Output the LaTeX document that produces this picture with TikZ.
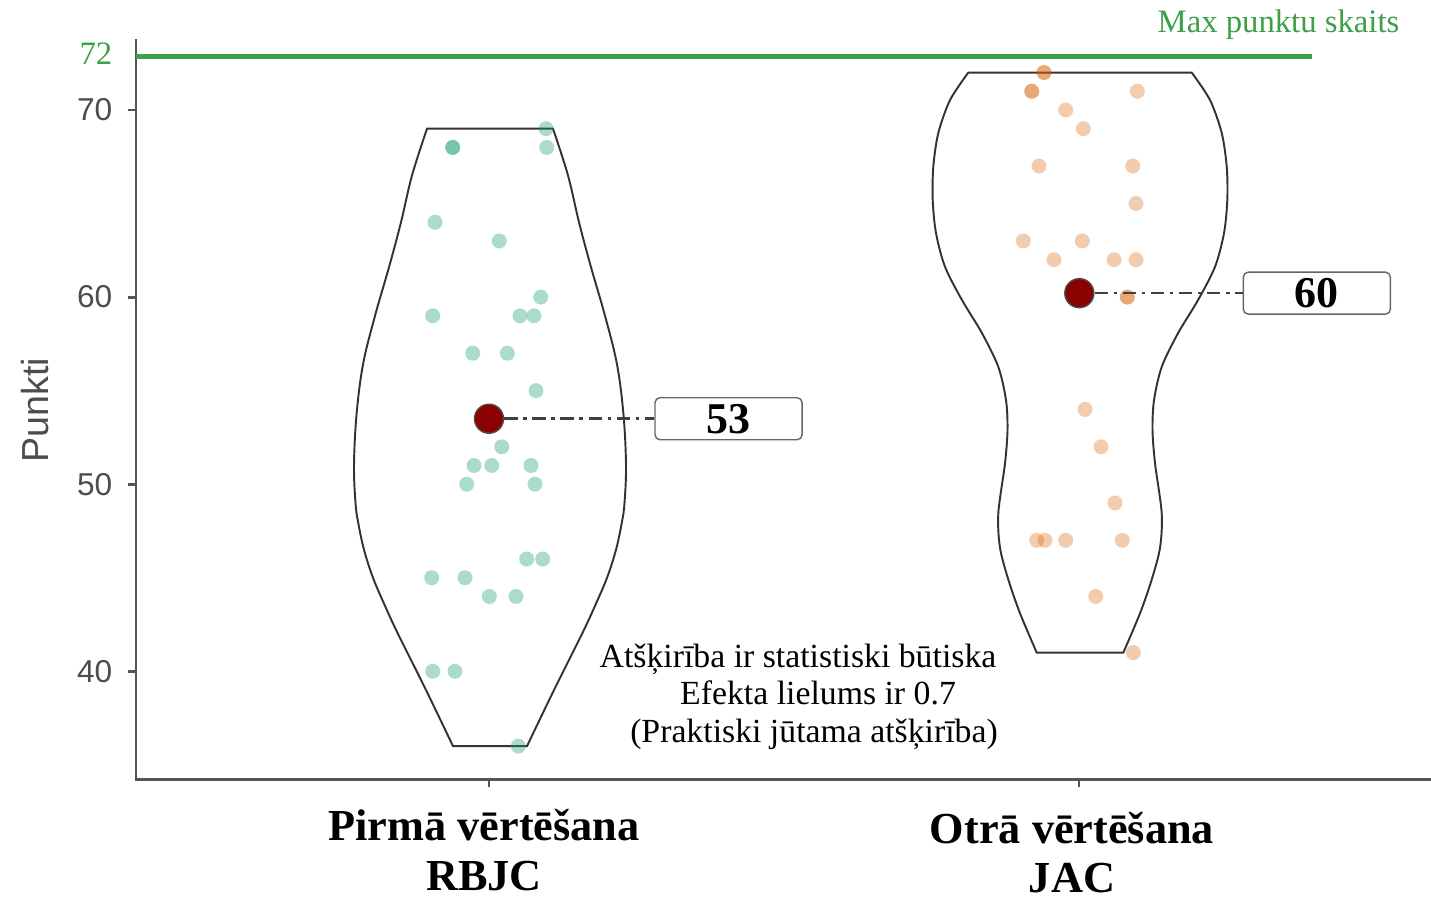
\documentclass[tikz,border=0pt]{standalone}
\usepackage{fontspec}
\setmainfont{Liberation Serif}
\setsansfont{Liberation Sans}
\usetikzlibrary{positioning}
\definecolor{maxgreen}{RGB}{60,160,75}
\definecolor{axisgray}{RGB}{85,85,85}
\definecolor{labelgray}{RGB}{77,77,77}
\definecolor{rbjcgreen}{RGB}{27,158,119}
\definecolor{jacorange}{RGB}{217,95,2}
\definecolor{meanred}{RGB}{139,0,0}
\tikzset{
  axisline/.style={draw=axisgray, line width=0.8pt},
  ticklab/.style={inner sep=0pt, text=labelgray, font=\sffamily\fontsize{9}{10}\selectfont},
  axtitle/.style={inner sep=0pt, text=labelgray, font=\sffamily\fontsize{10.7}{12}\selectfont},
  maxline/.style={draw=maxgreen, line width=1.4pt},
  maxtext/.style={inner sep=0pt, text=maxgreen, font=\fontsize{9.3}{11}\selectfont},
  violin/.style={draw=black!80, line width=0.55pt},
  rbjcdot/.style={fill=rbjcgreen, fill opacity=0.37},
  jacdot/.style={fill=jacorange, fill opacity=0.32},
  meandot/.style={
    circle,
    draw=black!70,
    fill=meanred,
    inner sep=0pt,
    minimum size=0.29cm
  },
  valbox/.style={
    draw=black!60,
    rectangle,
    rounded corners=0.05cm,
    minimum width=1.47cm,
    minimum height=0.42cm,
    inner sep=0pt,
    font=\bfseries\fontsize{12.5}{14}\selectfont
  },
  meanlink/.style={draw=black!75, line width=0.75pt, dash pattern=on 3.8pt off 1.6pt on 1pt off 1.6pt},
  note/.style={anchor=base, inner sep=0pt, font=\fontsize{9.6}{10.7}\selectfont},
  grouplab/.style={align=center, inner sep=0pt, font=\bfseries\fontsize{12.6}{14}\selectfont}
}
\begin{document}
\begin{tikzpicture}[x=0.01cm, y=0.187cm]
  \useasboundingbox (0,27.81) rectangle (1431,75.88);

  % axes
  \draw[axisline] (136,73.8) -- (136,34.22) -- (1431,34.22);
  \foreach \v in {40,50,60,70} {
    \draw[axisline] (128,\v) -- (136,\v);
    \node[ticklab, anchor=east] at (113,\v) {\v};
  }
  \draw[axisline] (489,34.22) -- (489,33.8);
  \draw[axisline] (1079,34.22) -- (1079,33.8);
  \node[axtitle, rotate=90] (ylab) at (35,53.96) {Punkti};

  % max line
  \coordinate (maxL) at (136,72.85);
  \coordinate (maxR) at (1312,72.85);
  \draw[maxline] (maxL) -- (maxR);
  \node[maxtext, anchor=base east] (max72) at (113,72.41) {72};
  \node[maxtext, anchor=base east] (maxlab) at (1400,74.12) {Max punktu skaits};

  % violins
  \draw[violin] plot[smooth, tension=0.6] coordinates {(427,69) (412,66.5) (401,64) (389,61.6) (375,59) (363,56.4) (356.5,53.7) (354,51) (355.5,49) (358,48) (364,46.5) (373,45) (385,43.5) (398,42) (426,39) (453,36)}
    -- plot[smooth, tension=0.6] coordinates {(527,36) (554,39) (582,42) (595,43.5) (607,45) (616,46.5) (622,48) (624.5,49) (626,51) (623.5,53.7) (617,56.4) (605,59) (591,61.6) (579,64) (568,66.5) (553,69)}
    -- cycle;
  \draw[violin] plot[smooth] coordinates {(968.3,72) (950,70.53) (938.3,68.77) (933.3,66.97) (932.7,65.19) (936,63.42) (945,61.62) (962,59.84) (982,58.07) (998.3,56.27) (1006,54.49) (1007.5,52.9) (1005,51.12) (998.3,48.45) (1000,46.6) (1008.5,44.87) (1020,43.1) (1036.7,41)}
    -- plot[smooth] coordinates {(1123.3,41) (1140,43.1) (1151.5,44.87) (1160,46.6) (1161.7,48.45) (1155,51.12) (1152.5,52.9) (1154,54.49) (1161.7,56.27) (1178,58.07) (1198,59.84) (1215,61.62) (1224,63.42) (1227.3,65.19) (1226.7,66.97) (1221.7,68.77) (1210,70.53) (1191.7,72)}
    -- cycle;

  % points
  \foreach \x/\v in {452.7/68, 452.7/68, 546/69, 546.7/68, 435/64, 499.3/63, 540.7/60, 432.7/59, 520/59, 534/59,
      472.7/57, 507.3/57, 536/55, 501.7/52, 474/51, 491.7/51, 531/51, 466.7/50, 535/50, 526.7/46, 542.7/46,
      431.7/45, 465/45, 489.3/44, 516/44, 432.7/40, 455/40, 518.3/36}
    \fill[rbjcdot] (\x,\v) circle[radius=0.075cm];
  \foreach \x/\v in {1044/72, 1044/72, 1031.7/71, 1031.7/71, 1137.3/71, 1065.7/70, 1083.3/69, 1039/67, 1132.7/67,
      1136/65, 1023.3/63, 1082.3/63, 1054/62, 1114/62, 1136/62, 1127.3/60, 1127.3/60, 1085/54, 1101/52,
      1115/49, 1036.7/47, 1045/47, 1065.7/47, 1122.3/47, 1095.7/44, 1133.3/41}
    \fill[jacdot] (\x,\v) circle[radius=0.075cm];

  % means
  \node[meandot] (mean53) at (489,53.5) {};
  \node[valbox, right=1.5cm of mean53] (lab53) {53};
  \draw[meanlink] (mean53) -- (lab53);
  \node[meandot] (mean60) at (1079.3,60.21) {};
  \node[valbox, right=1.48cm of mean60] (lab60) {60};
  \draw[meanlink] (mean60) -- (lab60);

  \node[note] (diff1) at (798,40.21) {Atšķirība ir statistiski būtiska};
  \node[note] (diff2) at (818,38.24) {Efekta lielums ir 0.7};
  \node[note] (diff3) at (814,36.2) {(Praktiski jūtama atšķirība)};

  \node[grouplab] (grp1) at (484,30.45) {Pirmā vērtēšana\\RBJC};
  \node[grouplab] (grp2) at (1072,30.3) {Otrā vērtēšana\\JAC};
\end{tikzpicture}
\end{document}
